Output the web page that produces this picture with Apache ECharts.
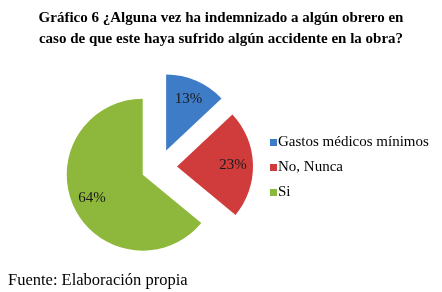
<!DOCTYPE html>
<html><head><meta charset="utf-8">
<script src="https://cdn.jsdelivr.net/npm/echarts@6/dist/echarts.min.js"></script>
<style>html,body{margin:0;padding:0;background:#fff}#c{width:442px;height:292px}</style>
</head><body><div id="c"></div>
<script>
const titleLines = ['Gráfico 6 ¿Alguna vez ha indemnizado a algún obrero en', 'caso de que este haya sufrido algún accidente en la obra?'];
const categories = ['Gastos médicos mínimos', 'No, Nunca', 'Si'];
const values = [13, 23, 64];
const colors = ['#3f7cc8', '#d03b3b', '#8db83b'];
const source = 'Fuente: Elaboración propia';

const chart = echarts.init(document.getElementById('c'), null, {renderer: 'canvas'});
const mainData = categories.map((n, i) => ({name: n, value: values[i], selected: true, itemStyle: {color: colors[i]}}));
const labelData = categories.map((n, i) => ({name: n, value: values[i], selected: true}));
chart.setOption({
  animation: false,
  backgroundColor: '#fff',
  title: [{
    text: titleLines.join('\n'), left: 'center', top: 3,
    textStyle: {fontFamily: 'Liberation Serif', fontWeight: 'bold', fontSize: 15, color: '#000', lineHeight: 21}
  }, {
    text: source, left: 3, top: 267,
    textStyle: {fontFamily: 'Liberation Serif', fontWeight: 'normal', fontSize: 16.5, color: '#000'}
  }],
  legend: {
    orient: 'vertical', left: 265, top: 129, itemWidth: 7, itemHeight: 7, itemGap: 8, icon: 'rect',
    data: categories,
    textStyle: {fontFamily: 'Liberation Serif', fontSize: 15, color: '#000', lineHeight: 17, padding: [0, 0, 0, -4]}
  },
  series: [{
    type: 'pie', center: [159, 167], radius: 76, selectedMode: 'multiple', selectedOffset: 18,
    startAngle: 90, clockwise: true, silent: true,
    label: {show: false}, labelLine: {show: false},
    data: mainData
  }, {
    type: 'pie', center: [159, 167], radius: 106, selectedMode: 'multiple', selectedOffset: 18,
    startAngle: 90, clockwise: true, silent: true,
    itemStyle: {color: 'rgba(0,0,0,0)'},
    label: {show: true, position: 'inside', formatter: '{c}%', fontFamily: 'Liberation Serif', fontSize: 15, color: '#1a1a1a'},
    labelLine: {show: false},
    data: labelData
  }]
});
</script></body></html>
